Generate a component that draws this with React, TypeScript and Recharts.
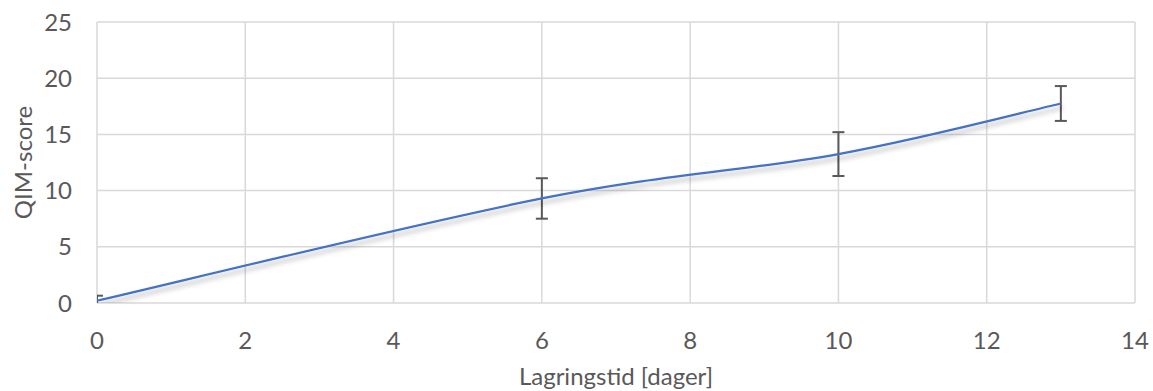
import { CartesianGrid, ErrorBar, Line, LineChart, XAxis, YAxis } from 'recharts'

// storage time (days) vs QIM score, with std error bars
const days = [0, 6, 10, 13]
const qimScore = [0.2, 9.3, 13.25, 17.75]
const qimError = [0.45, 1.8, 1.95, 1.55]

const xTicks = [0, 2, 4, 6, 8, 10, 12, 14]
const yTicks = [0, 5, 10, 15, 20, 25]

const chartData = days.map((d, i) => ({
  day: d,
  score: qimScore[i],
  err: qimError[i],
}))

const textColor = '#595959'
const fontFamily = 'Lato, "Open Sans", sans-serif'
const fontSize = 24

// Excel-style smoothed line (Catmull-Rom bezier), as a d3 curve factory
function smoothCurve(context: any) {
  let pts: number[][] = []
  return {
    areaStart() {},
    areaEnd() {},
    lineStart() {
      pts = []
    },
    lineEnd() {
      const n = pts.length
      if (!n) return
      context.moveTo(pts[0][0], pts[0][1])
      for (let i = 0; i < n - 1; i++) {
        const p0 = pts[Math.max(i - 1, 0)]
        const p1 = pts[i]
        const p2 = pts[i + 1]
        const p3 = pts[Math.min(i + 2, n - 1)]
        context.bezierCurveTo(
          p1[0] + (p2[0] - p0[0]) / 6,
          p1[1] + (p2[1] - p0[1]) / 6,
          p2[0] - (p3[0] - p1[0]) / 6,
          p2[1] - (p3[1] - p1[1]) / 6,
          p2[0],
          p2[1],
        )
      }
    },
    point(x: number, y: number) {
      pts.push([+x, +y])
    },
  }
}

export default function App() {
  return (
    <div style={{ position: 'fixed', left: 0, top: 0, width: 1153, height: 391, background: '#fff' }}>
      <LineChart
        width={1153}
        height={391}
        data={chartData}
        margin={{ top: 22, right: 18, left: 0, bottom: 6 }}
      >
        <defs>
          <filter id="lineShadow" x="-5%" y="-20%" width="110%" height="160%">
            <feDropShadow dx="2" dy="4" stdDeviation="2.5" floodColor="#000" floodOpacity="0.3" />
          </filter>
          <clipPath id="plotClip">
            <rect x={97} y={22} width={1038} height={281} />
          </clipPath>
        </defs>
        <CartesianGrid stroke="#d9d9d9" strokeWidth={1.5} />
        <XAxis
          dataKey="day"
          type="number"
          domain={[0, 14]}
          ticks={xTicks}
          allowDataOverflow
          axisLine={false}
          tickLine={false}
          tickSize={0}
          tickMargin={29}
          height={82}
          tick={{ fill: textColor, fontSize, fontFamily }}
          label={{
            value: 'Lagringstid [dager]',
            position: 'insideBottom',
            offset: 0,
            style: { fill: textColor, fontSize, fontFamily },
          }}
        />
        <YAxis
          type="number"
          domain={[0, 25]}
          ticks={yTicks}
          allowDataOverflow
          axisLine={false}
          tickLine={false}
          tickSize={0}
          tickMargin={25}
          width={97}
          tick={{ fill: textColor, fontSize, fontFamily }}
          label={{
            value: 'QIM-score',
            angle: -90,
            position: 'insideLeft',
            offset: 23,
            style: { fill: textColor, fontSize, fontFamily, textAnchor: 'middle' },
          }}
        />
        <Line
          type={smoothCurve as any}
          dataKey="score"
          stroke="#4472c4"
          strokeWidth={2.25}
          dot={false}
          activeDot={false}
          filter="url(#lineShadow)"
          clipPath="url(#plotClip)"
          isAnimationActive={false}
        >
          <ErrorBar
            dataKey="err"
            direction="y"
            width={6}
            stroke="#595959"
            strokeWidth={2}
            clipPath="url(#plotClip)"
          />
        </Line>
      </LineChart>
    </div>
  )
}
